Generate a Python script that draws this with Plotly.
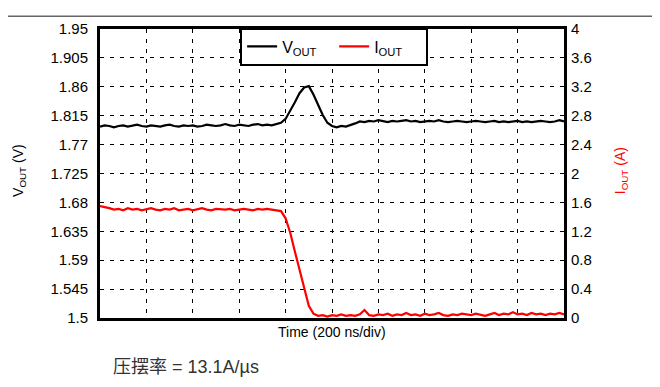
import plotly.graph_objects as go

# scope capture of the load step: Vout (left axis) and Iout (right axis), 200 ns/div

# time in divisions (10 divisions across the screen)
time_div = [
    0.0, 0.1, 0.2, 0.3, 0.4, 0.5, 0.6, 0.7, 0.8, 0.9,
    1.0, 1.1, 1.2, 1.3, 1.4, 1.5, 1.6, 1.7, 1.8, 1.9,
    2.0, 2.1, 2.2, 2.3, 2.4, 2.5, 2.6, 2.7, 2.8, 2.9,
    3.0, 3.1, 3.2, 3.3, 3.4, 3.5, 3.6, 3.7, 3.8, 3.9,
    4.0, 4.1, 4.2, 4.3, 4.4, 4.5, 4.6, 4.7, 4.8, 4.9,
    5.0, 5.1, 5.2, 5.3, 5.4, 5.5, 5.6, 5.7, 5.8, 5.9,
    6.0, 6.1, 6.2, 6.3, 6.4, 6.5, 6.6, 6.7, 6.8, 6.9,
    7.0, 7.1, 7.2, 7.3, 7.4, 7.5, 7.6, 7.7, 7.8, 7.9,
    8.0, 8.1, 8.2, 8.3, 8.4, 8.5, 8.6, 8.7, 8.8, 8.9,
    9.0, 9.1, 9.2, 9.3, 9.4, 9.5, 9.6, 9.7, 9.8, 9.9,
    10.0,
]

vout = [
    1.798, 1.800, 1.799, 1.797, 1.799, 1.800, 1.798, 1.799, 1.801, 1.799,
    1.798, 1.800, 1.799, 1.798, 1.800, 1.801, 1.799, 1.798, 1.800, 1.799,
    1.800, 1.798, 1.799, 1.801, 1.800, 1.799, 1.800, 1.802, 1.800, 1.799,
    1.801, 1.800, 1.799, 1.801, 1.802, 1.800, 1.801, 1.800, 1.802, 1.804,
    1.810, 1.822, 1.836, 1.850, 1.859, 1.861, 1.848, 1.832, 1.816, 1.804,
    1.799, 1.797, 1.799, 1.798, 1.800, 1.803, 1.806, 1.805, 1.807, 1.806,
    1.808, 1.806, 1.805, 1.807, 1.806, 1.807, 1.808, 1.806, 1.807, 1.805,
    1.806, 1.807, 1.806, 1.808, 1.806, 1.805, 1.806, 1.807, 1.806, 1.805,
    1.806, 1.807, 1.806, 1.805, 1.806, 1.807, 1.805, 1.806, 1.805, 1.806,
    1.807, 1.805, 1.806, 1.805, 1.806, 1.807, 1.806, 1.805, 1.806, 1.808,
    1.806,
]

iout = [
    1.55, 1.54, 1.52, 1.50, 1.51, 1.49, 1.52, 1.50, 1.51, 1.49,
    1.50, 1.52, 1.50, 1.49, 1.51, 1.50, 1.52, 1.49, 1.50, 1.51,
    1.49, 1.50, 1.52, 1.50, 1.49, 1.51, 1.50, 1.50, 1.51, 1.49,
    1.50, 1.51, 1.50, 1.49, 1.51, 1.50, 1.51, 1.50, 1.50, 1.48,
    1.38, 1.18, 0.92, 0.66, 0.40, 0.17, 0.06, 0.03, 0.04, 0.02,
    0.04, 0.03, 0.05, 0.03, 0.04, 0.03, 0.05, 0.11, 0.04, 0.03,
    0.05, 0.04, 0.06, 0.03, 0.05, 0.04, 0.07, 0.04, 0.05, 0.03,
    0.06, 0.04, 0.05, 0.07, 0.04, 0.03, 0.05, 0.04, 0.06, 0.05,
    0.04, 0.06, 0.05, 0.03, 0.05, 0.07, 0.04, 0.06, 0.05, 0.08,
    0.05, 0.06, 0.04, 0.07, 0.05, 0.06, 0.04, 0.06, 0.05, 0.07,
    0.05,
]

vout_ticks = [1.5, 1.545, 1.59, 1.635, 1.68, 1.725, 1.77, 1.815, 1.86, 1.905, 1.95]
vout_ticktext = ["1.5", "1.545", "1.59", "1.635", "1.68", "1.725", "1.77", "1.815", "1.86", "1.905", "1.95"]
iout_ticks = [0, 0.4, 0.8, 1.2, 1.6, 2, 2.4, 2.8, 3.2, 3.6, 4]
iout_ticktext = ["0", "0.4", "0.8", "1.2", "1.6", "2", "2.4", "2.8", "3.2", "3.6", "4"]

font_main = "Liberation Sans, Arial, Noto Sans CJK SC"

fig = go.Figure(
    data=[
        go.Scatter(
            name="V<sub>OUT</sub>",
            x=time_div,
            y=vout,
            mode="lines",
            line=dict(color="black", width=2.2),
        ),
        go.Scatter(
            name="I<sub>OUT</sub>",
            x=time_div,
            y=iout,
            mode="lines",
            yaxis="y2",
            line=dict(color="#ff0000", width=2.2),
        ),
    ]
)

# the page puts the figure 8px in from the window corner, so the figure is
# 8px smaller and the margins are shifted by 8px to land the plot where it should
fig.update_layout(
    width=652,
    height=379,
    autosize=False,
    margin=dict(l=92, r=96, t=14, b=69),
    plot_bgcolor="white",
    paper_bgcolor="white",
    font=dict(family=font_main, size=15, color="black"),
    legend=dict(
        orientation="h",
        x=0.302,
        xanchor="left",
        y=1.005,
        yanchor="top",
        bgcolor="white",
        bordercolor="black",
        borderwidth=2,
        entrywidth=47,
        font=dict(size=16),
    ),
    annotations=[
        dict(
            text="Time (200 ns/div)",
            xref="paper", yref="paper",
            x=0.5, y=-0.048,
            xanchor="center", yanchor="middle",
            showarrow=False,
            font=dict(size=14),
        ),
        dict(
            text="V<sub>OUT</sub> (V)",
            xref="paper", yref="paper",
            x=-0.176, y=0.51,
            xanchor="center", yanchor="middle",
            textangle=-90,
            showarrow=False,
            font=dict(size=14),
        ),
        dict(
            text="I<sub>OUT</sub> (A)",
            xref="paper", yref="paper",
            x=1.122, y=0.51,
            xanchor="center", yanchor="middle",
            textangle=-90,
            showarrow=False,
            font=dict(size=14, color="#ff0000"),
        ),
        dict(
            text="压摆率 = 13.1A/µs",
            xref="paper", yref="paper",
            x=0.024, y=-0.169,
            xanchor="left", yanchor="middle",
            showarrow=False,
            font=dict(size=18, color="#333333"),
        ),
    ],
    shapes=[
        # outer frame of the original figure (top and right edges)
        dict(type="line", xref="paper", yref="paper",
             x0=-0.22, x1=1.196, y0=1.044, y1=1.044,
             line=dict(color="#666666", width=1.5)),
        dict(type="line", xref="paper", yref="paper",
             x0=1.196, x1=1.196, y0=1.044, y1=-0.24,
             line=dict(color="#666666", width=1.5)),
    ],
)

# modify x-axis
fig.update_xaxes(
    range=[0, 10],
    tickvals=[0, 1, 2, 3, 4, 5, 6, 7, 8, 9, 10],
    showticklabels=False,
    showgrid=True,
    gridcolor="black",
    gridwidth=1,
    griddash="4px,6px",
    zeroline=False,
    showline=True,
    linecolor="black",
    linewidth=3,
    mirror=True,
)

# modify y-axes
fig.update_layout(
    yaxis=dict(
        range=[1.5, 1.95],
        tickvals=vout_ticks,
        ticktext=vout_ticktext,
        showgrid=True,
        gridcolor="black",
        gridwidth=1,
        griddash="4px,6px",
        zeroline=False,
        showline=True,
        linecolor="black",
        linewidth=3,
        mirror=True,
        ticks="",
        ticklabelstandoff=6,
    ),
    yaxis2=dict(
        range=[0, 4],
        tickvals=iout_ticks,
        ticktext=iout_ticktext,
        overlaying="y",
        side="right",
        showgrid=False,
        zeroline=False,
        showline=False,
        ticks="",
        ticklabelstandoff=6,
    ),
)

fig.write_html("out.html")
